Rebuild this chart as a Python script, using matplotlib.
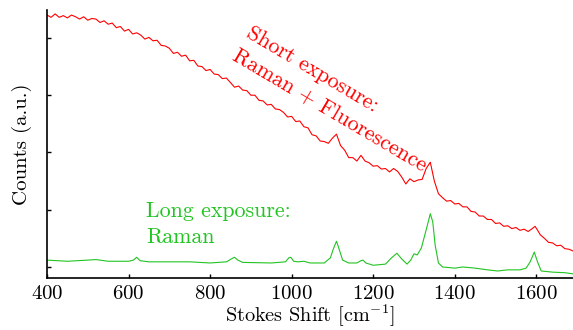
import numpy as np
import matplotlib
matplotlib.use("Agg")
import matplotlib.pyplot as plt

plt.rcParams['font.family'] = 'cmr10'
plt.rcParams['mathtext.fontset'] = 'cm'
plt.rcParams['axes.formatter.use_mathtext'] = True

# short exposure spectrum (Raman + fluorescence background)
short_x = [400, 410, 420, 430, 440, 450, 460, 470, 480, 490, 500, 510, 520, 530, 540,
           550, 560, 570, 580, 590, 600, 610, 620, 630, 640, 650, 660, 670, 680, 690,
           700, 710, 720, 730, 740, 750, 760, 770, 780, 790, 800, 810, 820, 830, 840,
           850, 860, 870, 880, 890, 900, 910, 920, 930, 940, 950, 960, 970, 980, 990,
           1000, 1010, 1020, 1030, 1040, 1050, 1060, 1070, 1080, 1090, 1100, 1110, 1120,
           1130, 1140, 1150, 1160, 1170, 1180, 1190, 1200, 1210, 1220, 1230, 1240, 1250,
           1260, 1270, 1280, 1290, 1300, 1310, 1320, 1330, 1340, 1350, 1360, 1370, 1380,
           1390, 1400, 1410, 1420, 1430, 1440, 1450, 1460, 1470, 1480, 1490, 1500, 1510,
           1520, 1530, 1540, 1550, 1560, 1570, 1580, 1590, 1597, 1605, 1610, 1620, 1630,
           1640, 1650, 1660, 1670, 1680, 1690]
short_y = [4.40, 4.36, 4.42, 4.36, 4.39, 4.35, 4.40, 4.37, 4.33, 4.37, 4.31, 4.34, 4.33,
           4.27, 4.30, 4.24, 4.26, 4.18, 4.20, 4.12, 4.15, 4.07, 4.09, 4.05, 3.98, 4.01,
           3.95, 3.96, 3.87, 3.86, 3.82, 3.73, 3.75, 3.68, 3.70, 3.60, 3.61, 3.51, 3.50,
           3.43, 3.45, 3.37, 3.36, 3.29, 3.30, 3.22, 3.14, 3.16, 3.09, 3.08, 3.00, 3.00,
           2.91, 2.90, 2.83, 2.84, 2.76, 2.75, 2.70, 2.62, 2.63, 2.54, 2.55, 2.45, 2.43,
           2.31, 2.29, 2.20, 2.19, 2.16, 2.25, 2.32, 2.12, 2.04, 1.91, 1.91, 1.85, 1.95,
           1.85, 1.82, 1.76, 1.77, 1.71, 1.72, 1.66, 1.72, 1.67, 1.57, 1.45, 1.54, 1.49,
           1.52, 1.53, 1.72, 1.83, 1.50, 1.28, 1.21, 1.15, 1.16, 1.10, 1.11, 1.05, 1.05,
           0.97, 0.96, 0.89, 0.89, 0.83, 0.83, 0.76, 0.77, 0.71, 0.72, 0.67, 0.69, 0.64,
           0.66, 0.62, 0.67, 0.71, 0.62, 0.56, 0.50, 0.43, 0.42, 0.37, 0.38, 0.32, 0.31,
           0.28]

# long exposure spectrum (Raman only)
long_x = [400, 450, 500, 520, 550, 600, 612, 620, 628, 650, 700, 750, 800, 840, 852, 860,
          868, 880, 950, 985, 993, 998, 1005, 1015, 1030, 1045, 1080, 1095, 1103, 1110,
          1117, 1125, 1140, 1160, 1170, 1175, 1182, 1200, 1230, 1245, 1258, 1270, 1283,
          1292, 1300, 1308, 1318, 1330, 1340, 1346, 1352, 1360, 1370, 1400, 1420, 1450,
          1480, 1505, 1530, 1560, 1575, 1585, 1595, 1603, 1612, 1640, 1670, 1690]
long_y = [0.12, 0.10, 0.12, 0.13, 0.10, 0.10, 0.12, 0.17, 0.11, 0.09, 0.09, 0.09, 0.07,
          0.09, 0.14, 0.17, 0.12, 0.08, 0.07, 0.09, 0.16, 0.17, 0.10, 0.09, 0.10, 0.07,
          0.07, 0.16, 0.33, 0.45, 0.30, 0.12, 0.07, 0.07, 0.11, 0.12, 0.07, 0.03, 0.05,
          0.16, 0.24, 0.14, 0.05, 0.12, 0.23, 0.21, 0.33, 0.65, 0.93, 0.79, 0.38, 0.07,
          0.00, -0.02, 0.00, -0.02, -0.05, -0.07, -0.05, -0.05, -0.02, 0.09, 0.26, 0.09,
          -0.07, -0.09, -0.10, -0.12]

xticks = [400, 600, 800, 1000, 1200, 1400, 1600]

red = '#ff0000'
green = '#22c422'

fig = plt.figure(figsize=(5.73, 3.30), dpi=100)
ax = fig.add_axes([0.082, 0.158, 0.918, 0.812])

ax.plot(short_x, short_y, color=red, lw=0.8)
ax.plot(long_x, long_y, color=green, lw=0.8)

ax.set_xlim(400, 1690)
ax.set_ylim(-0.19, 4.49)
ax.set_xticks(xticks)
ax.set_yticks([0, 1, 2, 3, 4])
ax.set_yticklabels([])
ax.tick_params(direction='in', length=3, width=1, labelsize=15, pad=5)
for s in ['top', 'right']:
    ax.spines[s].set_visible(False)
for s in ['left', 'bottom']:
    ax.spines[s].set_linewidth(1.2)

ax.set_xlabel('Stokes Shift [cm$^{\\mathsf{-}1}$]', fontsize=14.6, labelpad=0)
ax.set_ylabel('Counts (a.u.)', fontsize=15, labelpad=6)

# labels, one text per line so the baselines can be placed exactly
kw = dict(fontsize=15.8, ha='left', va='baseline', rotation_mode='anchor')
ax.text(886, 4.03, 'Short exposure:', color=red, rotation=-30.5, **kw)
ax.text(851, 3.63, 'Raman + Fluorescence', color=red, rotation=-30.5, **kw)
ax.text(643, 0.88, 'Long exposure:', color=green, **kw)
ax.text(643, 0.42, 'Raman', color=green, **kw)

fig.savefig('out.png', dpi=100)
